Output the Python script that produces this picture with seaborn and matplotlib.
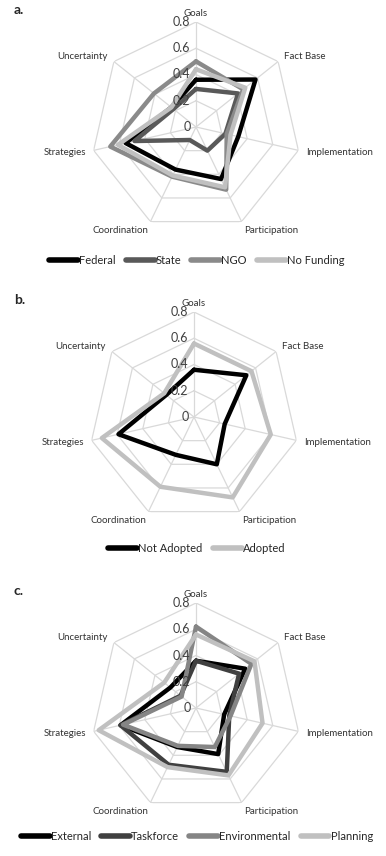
import numpy as np
import pandas as pd
import seaborn as sns
import matplotlib.pyplot as plt

# Axis categories of the radar charts
categories = ['Goals', 'Fact Base', 'Implementation', 'Participation',
              'Coordination', 'Strategies', 'Uncertainty']
ticks = [0, 0.2, 0.4, 0.6, 0.8]
tick_labels = ['0', '0.2', '0.4', '0.6', '0.8']

# panel a: funding source
federal = [0.36, 0.58, 0.33, 0.44, 0.36, 0.55, 0.24]
state = [0.29, 0.41, 0.23, 0.20, 0.11, 0.48, 0.22]
ngo = [0.50, 0.46, 0.24, 0.53, 0.42, 0.67, 0.41]
no_funding = [0.44, 0.48, 0.27, 0.51, 0.41, 0.61, 0.24]

# panel b: adoption
not_adopted = [0.36, 0.51, 0.24, 0.40, 0.32, 0.59, 0.27]
adopted = [0.56, 0.56, 0.60, 0.68, 0.59, 0.72, 0.29]

# panel c: who wrote the plan
external = [0.36, 0.48, 0.22, 0.39, 0.33, 0.59, 0.25]
taskforce = [0.36, 0.42, 0.26, 0.54, 0.48, 0.59, 0.15]
environmental = [0.62, 0.54, 0.27, 0.33, 0.32, 0.57, 0.14]
planning = [0.56, 0.57, 0.52, 0.57, 0.50, 0.76, 0.31]

sns.set_style('white')
plt.rcParams['font.family'] = ['Lato', 'DejaVu Sans']

W, H = 386, 856
fig = plt.figure(figsize=(W / 100, H / 100), dpi=100)

n = len(categories)
angles = np.linspace(0, 2 * np.pi, n, endpoint=False)
R = 105  # pixel radius of the 0.8 ring

# label placement: (ha, va, r)
label_pos = [('center', 'bottom', 0.83), ('left', 'center', 0.86),
             ('left', 'center', 0.86), ('left', 'top', 0.84),
             ('right', 'top', 0.84), ('right', 'center', 0.86),
             ('right', 'center', 0.86)]


def radar(cx, cy, names, series, colors, letter, legend_y):
    ax = fig.add_axes([(cx - R) / W, (H - cy - R) / H, 2 * R / W, 2 * R / H],
                      projection='polar')
    ax.set_theta_zero_location('N')
    ax.set_theta_direction(-1)
    ax.set_ylim(0, 0.8)
    ax.grid(False)
    ax.spines['polar'].set_visible(False)
    ax.set_xticks([])
    ax.set_yticks([])
    ax.patch.set_alpha(0)

    # heptagon grid
    ring = np.append(angles, angles[0])
    for t in ticks[1:]:
        ax.plot(ring, [t] * len(ring), color='#d9d9d9', lw=0.9, zorder=0)
    for a in angles:
        ax.plot([a, a], [0, 0.8], color='#d9d9d9', lw=0.9, zorder=0)

    rows = []
    for name, vals in zip(names, series):
        for a, v in zip(np.append(angles, 2 * np.pi), vals + vals[:1]):
            rows.append({'theta': a, 'value': v, 'series': name})
    df = pd.DataFrame(rows)
    sns.lineplot(data=df, x='theta', y='value', hue='series', hue_order=names,
                 palette=colors, sort=False, estimator=None, lw=3.2, ax=ax,
                 legend=True)
    ax.set_xlabel('')
    ax.set_ylabel('')
    ax.set_ylim(0, 0.8)

    for a, lab, (ha, va, r) in zip(angles, categories, label_pos):
        ax.text(a, r, lab, ha=ha, va=va, fontsize=7, color='#333333')
    for t, tl in zip(ticks, tick_labels):
        ax.annotate(tl, xy=(0, t), xytext=(-4, 0), textcoords='offset points',
                    ha='right', va='center', fontsize=9, color='#404040')

    handles, labels = ax.get_legend_handles_labels()
    ax.get_legend().remove()
    for h in handles:
        h.set_linewidth(4)
    fig.legend(handles, labels, loc='center', ncol=len(names),
               bbox_to_anchor=(0.51, 1 - legend_y / H), frameon=False,
               fontsize=8, handlelength=2.6, handletextpad=0.1,
               columnspacing=0.9)
    fig.text(14 / W, 1 - (cy - 117) / H, letter, fontsize=10,
             fontweight='bold', va='center', ha='left')


radar(196, 127, ['Federal', 'State', 'NGO', 'No Funding'],
      [federal, state, ngo, no_funding],
      ['#000000', '#595959', '#8a8a8a', '#c0c0c0'], 'a.', 260)
radar(194, 417, ['Not Adopted', 'Adopted'],
      [not_adopted, adopted],
      ['#000000', '#c0c0c0'], 'b.', 548)
radar(196, 708, ['External', 'Taskforce', 'Environmental', 'Planning'],
      [external, taskforce, environmental, planning],
      ['#000000', '#404040', '#858585', '#c0c0c0'], 'c.', 836)

fig.savefig('out.png', dpi=100)
